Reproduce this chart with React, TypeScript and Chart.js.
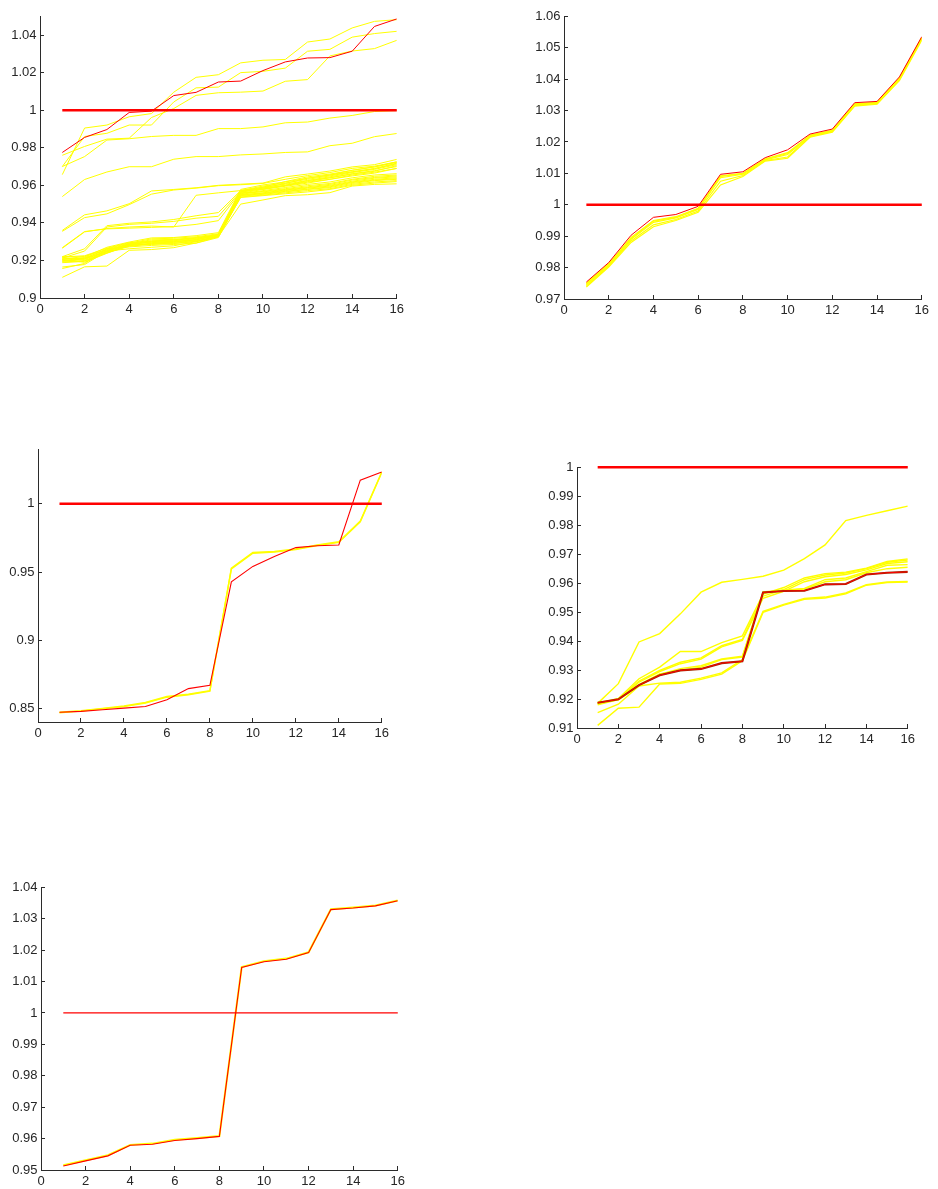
import React, { useEffect, useRef } from "react";
import { Chart, registerables } from "chart.js";

Chart.register(...registerables);

// ---------- shared axes ----------
const X = [1, 2, 3, 4, 5, 6, 7, 8, 9, 10, 11, 12, 13, 14, 15, 16];
const X_TICKS = [0, 2, 4, 6, 8, 10, 12, 14, 16];
const REF_LINE = [1, 1, 1, 1, 1, 1, 1, 1, 1, 1, 1, 1, 1, 1, 1, 1];

// ---------- panel 1 ----------
const P1_Y_TICKS = [0.9, 0.92, 0.94, 0.96, 0.98, 1, 1.02, 1.04];
const P1_RED = [0.9775, 0.9855, 0.9897, 0.9988, 0.9995, 1.0078, 1.0095, 1.015, 1.0155, 1.0211, 1.0257, 1.0278, 1.028, 1.0314, 1.0446, 1.0486];
const P1_RUN_01 = [0.9657, 0.9905, 0.9921, 0.9965, 0.9982, 1.0096, 1.0175, 1.0189, 1.0252, 1.0266, 1.027, 1.0363, 1.0379, 1.0438, 1.0473, 1.0482];
const P1_RUN_02 = [0.97, 0.986, 0.9877, 0.9921, 0.9921, 1.0044, 1.0119, 1.0123, 1.02, 1.0207, 1.0224, 1.0314, 1.0324, 1.0389, 1.0408, 1.042];
const P1_RUN_03 = [0.976, 0.9807, 0.9846, 0.9851, 0.9961, 1.0009, 1.0079, 1.0093, 1.0096, 1.0102, 1.0154, 1.0163, 1.0289, 1.0315, 1.0328, 1.0372];
const P1_RUN_04 = [0.97, 0.9753, 0.9841, 0.9848, 0.986, 0.9866, 0.9866, 0.9902, 0.9902, 0.9911, 0.9933, 0.9937, 0.9958, 0.9972, 0.9993, 0.9998];
const P1_RUN_05 = [0.954, 0.9631, 0.9671, 0.9699, 0.9699, 0.9739, 0.9753, 0.9753, 0.9762, 0.9767, 0.9775, 0.9778, 0.9811, 0.9824, 0.9859, 0.9876];
const P1_RUN_06 = [0.936, 0.9443, 0.9464, 0.9502, 0.957, 0.9578, 0.9587, 0.96, 0.9606, 0.9612, 0.9645, 0.966, 0.9676, 0.9698, 0.971, 0.9738];
const P1_RUN_07 = [0.9355, 0.9428, 0.9448, 0.9497, 0.9553, 0.9575, 0.9585, 0.9598, 0.9603, 0.961, 0.9632, 0.9652, 0.9668, 0.969, 0.9702, 0.9725];
const P1_RUN_08 = [0.9268, 0.9354, 0.9368, 0.9372, 0.9376, 0.938, 0.9392, 0.9412, 0.9565, 0.958, 0.96, 0.9625, 0.964, 0.966, 0.9675, 0.9705];
const P1_RUN_09 = [0.9265, 0.9352, 0.937, 0.9378, 0.9383, 0.9378, 0.9547, 0.956, 0.9572, 0.958, 0.9598, 0.9617, 0.9632, 0.965, 0.9665, 0.969];
const P1_RUN_10 = [0.922, 0.9262, 0.9385, 0.9398, 0.9405, 0.9418, 0.9438, 0.9455, 0.9572, 0.959, 0.962, 0.9645, 0.966, 0.968, 0.9698, 0.9722];
const P1_RUN_11 = [0.9212, 0.925, 0.9378, 0.9392, 0.9398, 0.9408, 0.9425, 0.9435, 0.9568, 0.9585, 0.961, 0.9638, 0.9655, 0.9672, 0.9688, 0.9715];
const P1_RUN_12 = [0.922, 0.9218, 0.927, 0.9298, 0.932, 0.9322, 0.9332, 0.9348, 0.9578, 0.9602, 0.9618, 0.9638, 0.9655, 0.968, 0.9698, 0.9725];
const P1_RUN_13 = [0.9212, 0.921, 0.9262, 0.9292, 0.9315, 0.9318, 0.9326, 0.9342, 0.9572, 0.9596, 0.9612, 0.9632, 0.965, 0.9672, 0.969, 0.9718];
const P1_RUN_14 = [0.9205, 0.9222, 0.9258, 0.9288, 0.931, 0.9312, 0.932, 0.9338, 0.9566, 0.959, 0.9606, 0.9626, 0.9645, 0.9668, 0.9685, 0.971];
const P1_RUN_15 = [0.9198, 0.9215, 0.9255, 0.9285, 0.9305, 0.9308, 0.9318, 0.9335, 0.9562, 0.9585, 0.96, 0.962, 0.964, 0.9662, 0.9678, 0.97];
const P1_RUN_16 = [0.9195, 0.9205, 0.925, 0.9282, 0.93, 0.9305, 0.9315, 0.9332, 0.9558, 0.9578, 0.9595, 0.9612, 0.9632, 0.9655, 0.967, 0.969];
const P1_RUN_17 = [0.9215, 0.92, 0.9248, 0.929, 0.9295, 0.93, 0.9312, 0.933, 0.9555, 0.9572, 0.9588, 0.9605, 0.9618, 0.964, 0.9655, 0.9662];
const P1_RUN_18 = [0.9208, 0.9212, 0.9245, 0.928, 0.9292, 0.9298, 0.931, 0.9335, 0.9552, 0.9568, 0.9582, 0.9598, 0.961, 0.9632, 0.9648, 0.9655];
const P1_RUN_19 = [0.92, 0.9208, 0.9252, 0.9285, 0.9298, 0.9302, 0.9308, 0.934, 0.956, 0.9565, 0.9578, 0.9592, 0.9605, 0.9628, 0.9642, 0.965];
const P1_RUN_20 = [0.9192, 0.9198, 0.9242, 0.9278, 0.929, 0.9296, 0.9305, 0.9328, 0.955, 0.956, 0.9575, 0.9588, 0.96, 0.9622, 0.9638, 0.9645];
const P1_RUN_21 = [0.9218, 0.9225, 0.9265, 0.9295, 0.9302, 0.931, 0.9322, 0.9336, 0.9548, 0.9558, 0.9572, 0.9585, 0.9596, 0.9618, 0.9632, 0.964];
const P1_RUN_22 = [0.9188, 0.9195, 0.924, 0.9275, 0.9288, 0.9292, 0.9302, 0.933, 0.9545, 0.9555, 0.9568, 0.958, 0.9592, 0.9615, 0.9628, 0.9635];
const P1_RUN_23 = [0.9205, 0.919, 0.9238, 0.9282, 0.9285, 0.929, 0.93, 0.9325, 0.9542, 0.9552, 0.9565, 0.9578, 0.9588, 0.961, 0.9625, 0.9632];
const P1_RUN_24 = [0.911, 0.9166, 0.917, 0.9254, 0.9258, 0.9268, 0.9293, 0.9327, 0.95, 0.9522, 0.9545, 0.955, 0.9561, 0.9596, 0.9605, 0.9608];
const P1_RUN_25 = [0.9157, 0.9184, 0.9262, 0.9272, 0.928, 0.9285, 0.9292, 0.9322, 0.9538, 0.9548, 0.956, 0.9572, 0.9582, 0.9605, 0.9618, 0.9625];
const P1_RUN_26 = [0.9165, 0.9178, 0.925, 0.9262, 0.927, 0.9278, 0.93, 0.933, 0.9535, 0.9545, 0.9555, 0.9565, 0.9578, 0.96, 0.9612, 0.962];

// ---------- panel 2 ----------
const P2_Y_TICKS = [0.97, 0.98, 0.99, 1, 1.01, 1.02, 1.03, 1.04, 1.05, 1.06];
const P2_RED = [0.9754, 0.9816, 0.9903, 0.996, 0.9969, 0.9995, 1.0097, 1.0105, 1.015, 1.0175, 1.0225, 1.0241, 1.0325, 1.0329, 1.0407, 1.0535];
const P2_RUN_01 = [0.975, 0.9812, 0.9896, 0.995, 0.9962, 0.9989, 1.0092, 1.01, 1.0146, 1.0166, 1.0221, 1.0237, 1.0321, 1.0326, 1.0403, 1.0532];
const P2_RUN_02 = [0.9745, 0.9808, 0.989, 0.9944, 0.9958, 0.9985, 1.0086, 1.0097, 1.0143, 1.016, 1.0219, 1.0235, 1.0318, 1.0323, 1.04, 1.053];
const P2_RUN_03 = [0.9741, 0.9805, 0.9885, 0.9936, 0.9953, 0.998, 1.0075, 1.0093, 1.0141, 1.0152, 1.0217, 1.0233, 1.0316, 1.0322, 1.0398, 1.0527];
const P2_RUN_04 = [0.9738, 0.9802, 0.988, 0.993, 0.995, 0.9976, 1.0063, 1.009, 1.0139, 1.0148, 1.0215, 1.0231, 1.0314, 1.032, 1.0395, 1.0524];
const P2_RUN_05 = [0.9748, 0.981, 0.9892, 0.9948, 0.996, 0.9987, 1.009, 1.0099, 1.0145, 1.0163, 1.022, 1.0236, 1.032, 1.0325, 1.0402, 1.0531];

// ---------- panel 3 ----------
const P3_Y_TICKS = [0.85, 0.9, 0.95, 1];
const P3_RED = [0.8471, 0.8478, 0.849, 0.8502, 0.8514, 0.8563, 0.8645, 0.8669, 0.9428, 0.9541, 0.9614, 0.9679, 0.9693, 0.9698, 1.0174, 1.0234];
const P3_RUN_01 = [0.8471, 0.8483, 0.85, 0.8517, 0.8543, 0.8587, 0.8604, 0.863, 0.9529, 0.9643, 0.965, 0.9669, 0.9698, 0.9722, 0.9874, 1.0234];
const P3_RUN_02 = [0.8468, 0.848, 0.8497, 0.8513, 0.8539, 0.8582, 0.86, 0.8626, 0.9522, 0.9638, 0.9646, 0.9665, 0.9694, 0.9717, 0.9868, 1.023];

// ---------- panel 4 ----------
const P4_Y_TICKS = [0.91, 0.92, 0.93, 0.94, 0.95, 0.96, 0.97, 0.98, 0.99, 1];
const P4_RED = [0.9187, 0.9199, 0.9248, 0.9282, 0.9299, 0.9304, 0.9324, 0.933, 0.9568, 0.9573, 0.9574, 0.9596, 0.9597, 0.963, 0.9636, 0.9639];
const P4_RUN_01 = [0.9185, 0.9253, 0.9397, 0.9426, 0.9494, 0.9569, 0.9603, 0.9613, 0.9624, 0.9645, 0.9685, 0.9732, 0.9816, 0.9834, 0.985, 0.9866];
const P4_RUN_02 = [0.9185, 0.9202, 0.927, 0.931, 0.9364, 0.9364, 0.9395, 0.9418, 0.9562, 0.9585, 0.9618, 0.9633, 0.9638, 0.9652, 0.9675, 0.9684];
const P4_RUN_03 = [0.9183, 0.92, 0.9262, 0.9299, 0.9327, 0.9342, 0.9384, 0.9406, 0.9555, 0.9578, 0.9612, 0.9628, 0.9635, 0.965, 0.9672, 0.968];
const P4_RUN_04 = [0.918, 0.9198, 0.9258, 0.9295, 0.9322, 0.9338, 0.938, 0.9402, 0.9548, 0.9572, 0.9605, 0.9622, 0.963, 0.9646, 0.9668, 0.9674];
const P4_RUN_05 = [0.9188, 0.9199, 0.925, 0.9287, 0.9299, 0.931, 0.9336, 0.9345, 0.957, 0.9576, 0.9582, 0.9612, 0.9618, 0.964, 0.9662, 0.9664];
const P4_RUN_06 = [0.9185, 0.9197, 0.9245, 0.9285, 0.9305, 0.9315, 0.9338, 0.9348, 0.9568, 0.9574, 0.958, 0.9605, 0.9612, 0.9636, 0.965, 0.9655];
const P4_RUN_07 = [0.9153, 0.9182, 0.9245, 0.9255, 0.9258, 0.9272, 0.929, 0.9336, 0.9503, 0.9527, 0.9547, 0.9552, 0.9566, 0.9595, 0.9604, 0.9606];
const P4_RUN_08 = [0.9109, 0.9168, 0.9172, 0.9252, 0.9254, 0.9268, 0.9286, 0.9332, 0.9499, 0.9524, 0.9544, 0.9549, 0.9563, 0.9593, 0.9602, 0.9604];

// ---------- panel 5 ----------
const P5_Y_TICKS = [0.95, 0.96, 0.97, 0.98, 0.99, 1, 1.01, 1.02, 1.03, 1.04];
const P5_RED = [0.9513, 0.9529, 0.9545, 0.9579, 0.9582, 0.9594, 0.96, 0.9607, 1.0145, 1.0163, 1.0171, 1.0192, 1.0329, 1.0334, 1.0341, 1.0357];
const P5_RUN_01 = [0.9515, 0.9531, 0.9547, 0.958, 0.9584, 0.9596, 0.9602, 0.9608, 1.0146, 1.0165, 1.0173, 1.0193, 1.033, 1.0336, 1.0342, 1.0358];

// ---------- styling ----------
const YELLOW = "#ffff00";
const RED = "#ff0000";
const RED_EDGE = "#9a2a00";
const AXIS = "#2b2b2b";
const TEXT = "#262626";
const FONT = { family: '"Liberation Sans", Arial, Helvetica, sans-serif', size: 13 };
const Y_AXIS_W = 45;
const X_AXIS_H = 19;
const PAD_TOP = 12;
const PAD_RIGHT = 8;

type PanelSpec = {
  box: { l: number; t: number; r: number; b: number };
  yMin: number;
  yMax: number;
  yTicks: number[];
  runs: number[][];
  runWidth: number;
  red: number[];
  redWidth: number;
  redOutline?: boolean;
  refWidth: number;
};

const PANELS: PanelSpec[] = [
  {
    box: { l: 40, t: 13, r: 404, b: 298 },
    yMin: 0.9, yMax: 1.05, yTicks: P1_Y_TICKS,
    runs: [P1_RUN_01, P1_RUN_02, P1_RUN_03, P1_RUN_04, P1_RUN_05, P1_RUN_06, P1_RUN_07, P1_RUN_08, P1_RUN_09,
      P1_RUN_10, P1_RUN_11, P1_RUN_12, P1_RUN_13, P1_RUN_14, P1_RUN_15, P1_RUN_16, P1_RUN_17, P1_RUN_18,
      P1_RUN_19, P1_RUN_20, P1_RUN_21, P1_RUN_22, P1_RUN_23, P1_RUN_24, P1_RUN_25, P1_RUN_26],
    runWidth: 1, red: P1_RED, redWidth: 1, refWidth: 2.5,
  },
  {
    box: { l: 564, t: 13, r: 929, b: 299 },
    yMin: 0.97, yMax: 1.06, yTicks: P2_Y_TICKS,
    runs: [P2_RUN_01, P2_RUN_02, P2_RUN_03, P2_RUN_04, P2_RUN_05],
    runWidth: 1.2, red: P2_RED, redWidth: 1, refWidth: 2.5,
  },
  {
    box: { l: 38, t: 446, r: 389, b: 722 },
    yMin: 0.84, yMax: 1.04, yTicks: P3_Y_TICKS,
    runs: [P3_RUN_01, P3_RUN_02],
    runWidth: 1.4, red: P3_RED, redWidth: 1.1, refWidth: 2.5,
  },
  {
    box: { l: 577, t: 464, r: 915, b: 728 },
    yMin: 0.91, yMax: 1.0, yTicks: P4_Y_TICKS,
    runs: [P4_RUN_01, P4_RUN_02, P4_RUN_03, P4_RUN_04, P4_RUN_05, P4_RUN_06, P4_RUN_07, P4_RUN_08],
    runWidth: 1.4, red: P4_RED, redWidth: 1, redOutline: true, refWidth: 2.5,
  },
  {
    box: { l: 41, t: 884, r: 405, b: 1170 },
    yMin: 0.95, yMax: 1.04, yTicks: P5_Y_TICKS,
    runs: [P5_RUN_01],
    runWidth: 2, red: P5_RED, redWidth: 1.1, refWidth: 1.3,
  },
];

const fmt = (v: number) => String(parseFloat(Number(v).toFixed(4)));
const pts = (ys: number[]) => X.map((x, i) => ({ x, y: ys[i] }));

function Panel({ spec }: { spec: PanelSpec }) {
  const ref = useRef<HTMLCanvasElement | null>(null);
  const { box } = spec;
  const width = box.r - box.l + Y_AXIS_W + PAD_RIGHT;
  const height = box.b - box.t + PAD_TOP + X_AXIS_H;

  useEffect(() => {
    if (!ref.current) return;
    const datasets: any[] = [];
    // reference line at 1 sits on top of everything
    datasets.push({ data: pts(REF_LINE), borderColor: RED, borderWidth: spec.refWidth, order: 0, clip: false });
    datasets.push({ data: pts(spec.red), borderColor: RED, borderWidth: spec.redWidth, order: 1 });
    if (spec.redOutline) {
      // darker rim under the red curve
      datasets.push({ data: pts(spec.red), borderColor: RED_EDGE, borderWidth: 2.1, order: 2 });
    }
    spec.runs.forEach((r) => {
      datasets.push({ data: pts(r), borderColor: YELLOW, borderWidth: spec.runWidth, order: 3 });
    });

    const grid = {
      drawOnChartArea: false,
      drawTicks: true,
      tickLength: -4,
      tickColor: AXIS,
      color: AXIS,
    };
    const border = { display: true, color: AXIS, width: 1 };

    const chart = new Chart(ref.current, {
      type: "line",
      data: { datasets },
      options: {
        animation: false,
        responsive: false,
        maintainAspectRatio: false,
        devicePixelRatio: 1,
        events: [],
        layout: { padding: { left: 0, top: PAD_TOP, right: PAD_RIGHT, bottom: 0 } },
        elements: { point: { radius: 0 }, line: { tension: 0, fill: false, borderCapStyle: "butt", borderJoinStyle: "miter" } },
        plugins: { legend: { display: false }, tooltip: { enabled: false }, title: { display: false } },
        scales: {
          x: {
            type: "linear",
            min: 0,
            max: 16,
            afterBuildTicks: (s: any) => { s.ticks = X_TICKS.map((v) => ({ value: v })); },
            afterFit: (s: any) => { s.height = X_AXIS_H; },
            grid,
            border,
            ticks: { font: FONT, color: TEXT, padding: 8, maxRotation: 0, autoSkip: false, callback: (v: any) => fmt(v) },
          },
          y: {
            type: "linear",
            min: spec.yMin,
            max: spec.yMax,
            afterBuildTicks: (s: any) => { s.ticks = spec.yTicks.map((v) => ({ value: v })); },
            afterFit: (s: any) => { s.width = Y_AXIS_W; },
            grid,
            border,
            ticks: { font: FONT, color: TEXT, padding: 7.5, autoSkip: false, callback: (v: any) => fmt(v) },
          },
        },
      } as any,
    });
    return () => chart.destroy();
  }, [spec]);

  return (
    <canvas
      ref={ref}
      width={width}
      height={height}
      style={{
        position: "absolute",
        left: box.l - Y_AXIS_W,
        top: box.t - PAD_TOP,
        width,
        height,
      }}
    />
  );
}

export default function App() {
  return (
    <div
      style={{
        position: "absolute",
        left: 0,
        top: 0,
        width: 938,
        height: 1189,
        overflow: "hidden",
        background: "#ffffff",
      }}
    >
      {PANELS.map((p, i) => (
        <Panel key={i} spec={p} />
      ))}
    </div>
  );
}
